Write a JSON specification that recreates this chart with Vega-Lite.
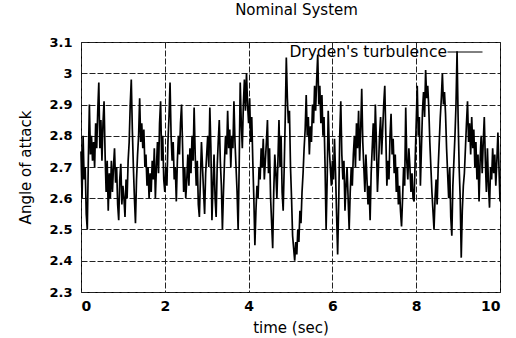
{
  "$schema": "https://vega.github.io/schema/vega-lite/v6.json",
  "width": 419,
  "height": 250,
  "autosize": {"type": "none"},
  "padding": {"left": 81, "top": 42, "right": 16, "bottom": 46},
  "background": "white",
  "title": {"text": "Nominal System", "font": "DejaVu Sans", "fontSize": 15, "fontWeight": "normal", "color": "black", "offset": 16, "anchor": "middle", "dx": 6},
  "config": {
    "view": {"stroke": "black", "strokeWidth": 1},
    "axis": {
      "domain": false, "ticks": false,
      "grid": true, "gridColor": "#222", "gridDash": [6, 2], "gridOpacity": 1, "gridWidth": 1,
      "labelFont": "DejaVu Sans", "labelFontWeight": "bold", "labelFontSize": 13, "labelColor": "black",
      "titleFont": "DejaVu Sans", "titleFontWeight": "normal", "titleFontSize": 15, "titleColor": "black"
    }
  },
  "data": {"values": [
{"t":0.000,"y":2.75},{"t":0.025,"y":2.60},{"t":0.050,"y":2.80},{"t":0.075,"y":2.66},{"t":0.100,"y":2.70},{"t":0.125,"y":2.55},{"t":0.150,"y":2.50},{"t":0.175,"y":2.72},{"t":0.200,"y":2.90},{"t":0.225,"y":2.74},
{"t":0.250,"y":2.80},{"t":0.275,"y":2.72},{"t":0.300,"y":2.78},{"t":0.325,"y":2.70},{"t":0.350,"y":2.84},{"t":0.375,"y":2.76},{"t":0.400,"y":2.88},{"t":0.425,"y":2.97},{"t":0.450,"y":2.76},{"t":0.475,"y":2.85},
{"t":0.500,"y":2.72},{"t":0.525,"y":2.84},{"t":0.550,"y":2.91},{"t":0.575,"y":2.74},{"t":0.600,"y":2.62},{"t":0.625,"y":2.72},{"t":0.650,"y":2.56},{"t":0.675,"y":2.68},{"t":0.700,"y":2.60},{"t":0.725,"y":2.72},
{"t":0.750,"y":2.62},{"t":0.775,"y":2.70},{"t":0.800,"y":2.76},{"t":0.825,"y":2.65},{"t":0.850,"y":2.70},{"t":0.875,"y":2.58},{"t":0.900,"y":2.53},{"t":0.925,"y":2.66},{"t":0.950,"y":2.71},{"t":0.975,"y":2.58},
{"t":1.000,"y":2.64},{"t":1.025,"y":2.60},{"t":1.050,"y":2.54},{"t":1.075,"y":2.66},{"t":1.100,"y":2.60},{"t":1.125,"y":2.72},{"t":1.150,"y":2.78},{"t":1.175,"y":2.90},{"t":1.200,"y":2.98},{"t":1.225,"y":2.82},
{"t":1.250,"y":2.70},{"t":1.275,"y":2.60},{"t":1.300,"y":2.52},{"t":1.325,"y":2.66},{"t":1.350,"y":2.74},{"t":1.375,"y":2.80},{"t":1.400,"y":2.92},{"t":1.425,"y":2.78},{"t":1.450,"y":2.84},{"t":1.475,"y":2.76},
{"t":1.500,"y":2.82},{"t":1.525,"y":2.70},{"t":1.550,"y":2.74},{"t":1.575,"y":2.64},{"t":1.600,"y":2.70},{"t":1.625,"y":2.60},{"t":1.650,"y":2.68},{"t":1.675,"y":2.62},{"t":1.700,"y":2.72},{"t":1.725,"y":2.66},
{"t":1.750,"y":2.76},{"t":1.775,"y":2.60},{"t":1.800,"y":2.70},{"t":1.825,"y":2.78},{"t":1.850,"y":2.68},{"t":1.875,"y":2.84},{"t":1.900,"y":2.91},{"t":1.925,"y":2.72},{"t":1.950,"y":2.80},{"t":1.975,"y":2.66},
{"t":2.000,"y":2.62},{"t":2.025,"y":2.70},{"t":2.050,"y":2.64},{"t":2.075,"y":2.78},{"t":2.100,"y":2.86},{"t":2.125,"y":2.97},{"t":2.150,"y":2.80},{"t":2.175,"y":2.72},{"t":2.200,"y":2.78},{"t":2.225,"y":2.66},
{"t":2.250,"y":2.70},{"t":2.275,"y":2.59},{"t":2.300,"y":2.72},{"t":2.325,"y":2.80},{"t":2.350,"y":2.74},{"t":2.375,"y":2.84},{"t":2.400,"y":2.90},{"t":2.425,"y":2.76},{"t":2.450,"y":2.62},{"t":2.475,"y":2.70},
{"t":2.500,"y":2.60},{"t":2.525,"y":2.66},{"t":2.550,"y":2.74},{"t":2.575,"y":2.64},{"t":2.600,"y":2.76},{"t":2.625,"y":2.68},{"t":2.650,"y":2.80},{"t":2.675,"y":2.72},{"t":2.700,"y":2.89},{"t":2.725,"y":2.74},
{"t":2.750,"y":2.64},{"t":2.775,"y":2.72},{"t":2.800,"y":2.58},{"t":2.825,"y":2.54},{"t":2.850,"y":2.66},{"t":2.875,"y":2.78},{"t":2.900,"y":2.70},{"t":2.925,"y":2.62},{"t":2.950,"y":2.55},{"t":2.975,"y":2.68},
{"t":3.000,"y":2.74},{"t":3.025,"y":2.80},{"t":3.050,"y":2.70},{"t":3.075,"y":2.89},{"t":3.100,"y":2.76},{"t":3.125,"y":2.53},{"t":3.150,"y":2.64},{"t":3.175,"y":2.74},{"t":3.200,"y":2.60},{"t":3.225,"y":2.54},
{"t":3.250,"y":2.70},{"t":3.275,"y":2.78},{"t":3.300,"y":2.85},{"t":3.325,"y":2.72},{"t":3.350,"y":2.64},{"t":3.375,"y":2.50},{"t":3.400,"y":2.62},{"t":3.425,"y":2.72},{"t":3.450,"y":2.80},{"t":3.475,"y":2.74},
{"t":3.500,"y":2.88},{"t":3.525,"y":2.76},{"t":3.550,"y":2.82},{"t":3.575,"y":2.70},{"t":3.600,"y":2.80},{"t":3.625,"y":2.76},{"t":3.650,"y":2.91},{"t":3.675,"y":2.78},{"t":3.700,"y":2.70},{"t":3.725,"y":2.62},
{"t":3.750,"y":2.50},{"t":3.775,"y":2.70},{"t":3.800,"y":2.97},{"t":3.825,"y":2.84},{"t":3.850,"y":2.76},{"t":3.875,"y":2.90},{"t":3.900,"y":2.98},{"t":3.925,"y":2.88},{"t":3.950,"y":3.00},{"t":3.975,"y":2.90},
{"t":4.000,"y":2.84},{"t":4.025,"y":2.92},{"t":4.050,"y":2.78},{"t":4.075,"y":2.86},{"t":4.100,"y":2.72},{"t":4.125,"y":2.60},{"t":4.150,"y":2.45},{"t":4.175,"y":2.56},{"t":4.200,"y":2.64},{"t":4.225,"y":2.60},
{"t":4.250,"y":2.70},{"t":4.275,"y":2.66},{"t":4.300,"y":2.76},{"t":4.325,"y":2.70},{"t":4.350,"y":2.79},{"t":4.375,"y":2.66},{"t":4.400,"y":2.72},{"t":4.425,"y":2.78},{"t":4.450,"y":2.85},{"t":4.475,"y":2.68},
{"t":4.500,"y":2.76},{"t":4.525,"y":2.60},{"t":4.550,"y":2.52},{"t":4.575,"y":2.44},{"t":4.600,"y":2.62},{"t":4.625,"y":2.74},{"t":4.650,"y":2.68},{"t":4.675,"y":2.60},{"t":4.700,"y":2.72},{"t":4.725,"y":2.85},
{"t":4.750,"y":2.70},{"t":4.775,"y":2.80},{"t":4.800,"y":2.62},{"t":4.825,"y":2.56},{"t":4.850,"y":2.70},{"t":4.875,"y":2.86},{"t":4.900,"y":3.05},{"t":4.925,"y":2.92},{"t":4.950,"y":2.84},{"t":4.975,"y":2.88},
{"t":5.000,"y":2.70},{"t":5.025,"y":2.60},{"t":5.050,"y":2.48},{"t":5.075,"y":2.44},{"t":5.100,"y":2.40},{"t":5.125,"y":2.46},{"t":5.150,"y":2.42},{"t":5.175,"y":2.50},{"t":5.200,"y":2.46},{"t":5.225,"y":2.56},
{"t":5.250,"y":2.52},{"t":5.275,"y":2.62},{"t":5.300,"y":2.68},{"t":5.325,"y":2.76},{"t":5.350,"y":2.82},{"t":5.375,"y":2.93},{"t":5.400,"y":2.80},{"t":5.425,"y":2.86},{"t":5.450,"y":2.74},{"t":5.475,"y":2.83},
{"t":5.500,"y":2.78},{"t":5.525,"y":2.90},{"t":5.550,"y":2.84},{"t":5.575,"y":2.96},{"t":5.600,"y":2.88},{"t":5.625,"y":2.98},{"t":5.650,"y":3.06},{"t":5.675,"y":2.90},{"t":5.700,"y":2.96},{"t":5.725,"y":2.84},
{"t":5.750,"y":2.93},{"t":5.775,"y":2.80},{"t":5.800,"y":2.86},{"t":5.825,"y":2.70},{"t":5.850,"y":2.50},{"t":5.875,"y":2.66},{"t":5.900,"y":2.88},{"t":5.925,"y":2.76},{"t":5.950,"y":2.70},{"t":5.975,"y":2.64},
{"t":6.000,"y":2.72},{"t":6.025,"y":2.66},{"t":6.050,"y":2.79},{"t":6.075,"y":2.68},{"t":6.100,"y":2.55},{"t":6.125,"y":2.42},{"t":6.150,"y":2.58},{"t":6.175,"y":2.80},{"t":6.200,"y":2.91},{"t":6.225,"y":2.74},
{"t":6.250,"y":2.66},{"t":6.275,"y":2.72},{"t":6.300,"y":2.56},{"t":6.325,"y":2.64},{"t":6.350,"y":2.70},{"t":6.375,"y":2.60},{"t":6.400,"y":2.50},{"t":6.425,"y":2.62},{"t":6.450,"y":2.70},{"t":6.475,"y":2.64},
{"t":6.500,"y":2.74},{"t":6.525,"y":2.80},{"t":6.550,"y":2.70},{"t":6.575,"y":2.84},{"t":6.600,"y":2.76},{"t":6.625,"y":2.88},{"t":6.650,"y":2.72},{"t":6.675,"y":2.82},{"t":6.700,"y":2.95},{"t":6.725,"y":2.78},
{"t":6.750,"y":2.70},{"t":6.775,"y":2.62},{"t":6.800,"y":2.74},{"t":6.825,"y":2.66},{"t":6.850,"y":2.58},{"t":6.875,"y":2.64},{"t":6.900,"y":2.53},{"t":6.925,"y":2.68},{"t":6.950,"y":2.76},{"t":6.975,"y":2.84},
{"t":7.000,"y":2.72},{"t":7.025,"y":2.90},{"t":7.050,"y":2.78},{"t":7.075,"y":2.62},{"t":7.100,"y":2.70},{"t":7.125,"y":2.80},{"t":7.150,"y":2.86},{"t":7.175,"y":2.74},{"t":7.200,"y":2.82},{"t":7.225,"y":2.90},
{"t":7.250,"y":2.96},{"t":7.275,"y":2.80},{"t":7.300,"y":2.64},{"t":7.325,"y":2.72},{"t":7.350,"y":2.66},{"t":7.375,"y":2.80},{"t":7.400,"y":2.87},{"t":7.425,"y":2.74},{"t":7.450,"y":2.79},{"t":7.475,"y":2.68},
{"t":7.500,"y":2.74},{"t":7.525,"y":2.62},{"t":7.550,"y":2.70},{"t":7.575,"y":2.58},{"t":7.600,"y":2.64},{"t":7.625,"y":2.56},{"t":7.650,"y":2.51},{"t":7.675,"y":2.60},{"t":7.700,"y":2.70},{"t":7.725,"y":2.64},
{"t":7.750,"y":2.89},{"t":7.775,"y":2.72},{"t":7.800,"y":2.66},{"t":7.825,"y":2.76},{"t":7.850,"y":2.70},{"t":7.875,"y":2.62},{"t":7.900,"y":2.68},{"t":7.925,"y":2.60},{"t":7.950,"y":2.59},{"t":7.975,"y":2.72},
{"t":8.000,"y":2.84},{"t":8.025,"y":2.96},{"t":8.050,"y":2.80},{"t":8.075,"y":2.86},{"t":8.100,"y":2.64},{"t":8.125,"y":2.76},{"t":8.150,"y":2.88},{"t":8.175,"y":2.94},{"t":8.200,"y":2.86},{"t":8.225,"y":3.01},
{"t":8.250,"y":2.92},{"t":8.275,"y":2.96},{"t":8.300,"y":2.89},{"t":8.325,"y":2.78},{"t":8.350,"y":2.70},{"t":8.375,"y":2.62},{"t":8.400,"y":2.56},{"t":8.425,"y":2.50},{"t":8.450,"y":2.60},{"t":8.475,"y":2.66},
{"t":8.500,"y":2.58},{"t":8.525,"y":2.70},{"t":8.550,"y":2.78},{"t":8.575,"y":2.86},{"t":8.600,"y":2.92},{"t":8.625,"y":3.00},{"t":8.650,"y":2.90},{"t":8.675,"y":2.94},{"t":8.700,"y":2.87},{"t":8.725,"y":2.76},
{"t":8.750,"y":2.68},{"t":8.775,"y":2.60},{"t":8.800,"y":2.70},{"t":8.825,"y":2.54},{"t":8.850,"y":2.48},{"t":8.875,"y":2.64},{"t":8.900,"y":2.72},{"t":8.925,"y":2.80},{"t":8.950,"y":2.90},{"t":8.975,"y":3.07},
{"t":9.000,"y":2.86},{"t":9.025,"y":2.70},{"t":9.050,"y":2.60},{"t":9.075,"y":2.41},{"t":9.100,"y":2.56},{"t":9.125,"y":2.64},{"t":9.150,"y":2.68},{"t":9.175,"y":2.76},{"t":9.200,"y":2.84},{"t":9.225,"y":2.91},
{"t":9.250,"y":2.78},{"t":9.275,"y":2.84},{"t":9.300,"y":2.74},{"t":9.325,"y":2.86},{"t":9.350,"y":2.76},{"t":9.375,"y":2.82},{"t":9.400,"y":2.70},{"t":9.425,"y":2.78},{"t":9.450,"y":2.66},{"t":9.475,"y":2.74},
{"t":9.500,"y":2.59},{"t":9.525,"y":2.72},{"t":9.550,"y":2.80},{"t":9.575,"y":2.68},{"t":9.600,"y":2.78},{"t":9.625,"y":2.86},{"t":9.650,"y":2.72},{"t":9.675,"y":2.62},{"t":9.700,"y":2.76},{"t":9.725,"y":2.64},
{"t":9.750,"y":2.57},{"t":9.775,"y":2.70},{"t":9.800,"y":2.66},{"t":9.825,"y":2.76},{"t":9.850,"y":2.68},{"t":9.875,"y":2.74},{"t":9.900,"y":2.64},{"t":9.925,"y":2.72},{"t":9.950,"y":2.81},{"t":9.975,"y":2.70},
{"t":10.000,"y":2.59}
  ]},
  "mark": {"type": "line", "strokeWidth": 1.7, "interpolate": "linear"},
  "encoding": {
    "x": {"field": "t", "type": "quantitative", "scale": {"domain": [0, 10], "nice": false},
          "axis": {"values": [0, 2, 4, 6, 8, 10], "format": "d", "title": "time (sec)", "labelPadding": 7, "titlePadding": 7, "labelFontSize": 14}},
    "y": {"field": "y", "type": "quantitative", "scale": {"domain": [2.3, 3.1], "nice": false, "zero": false},
          "axis": {"values": [2.3, 2.4, 2.5, 2.6, 2.7, 2.8, 2.9, 3.0, 3.1], "format": ".1~f", "title": "Angle of attack", "labelPadding": 9, "titlePadding": 15}},
    "color": {"datum": "Dryden's turbulence", "type": "nominal", "scale": {"range": ["black"]},
              "legend": {"title": null, "orient": "none", "legendX": 366, "legendY": -8, "padding": 0,
                         "symbolType": "stroke", "symbolSize": 1225, "symbolStrokeWidth": 1, "symbolStrokeColor": "black",
                         "labelAlign": "right", "labelOffset": -36, "labelFont": "DejaVu Sans", "labelFontSize": 15.5, "labelColor": "black", "labelLimit": 300}}
  }
}
